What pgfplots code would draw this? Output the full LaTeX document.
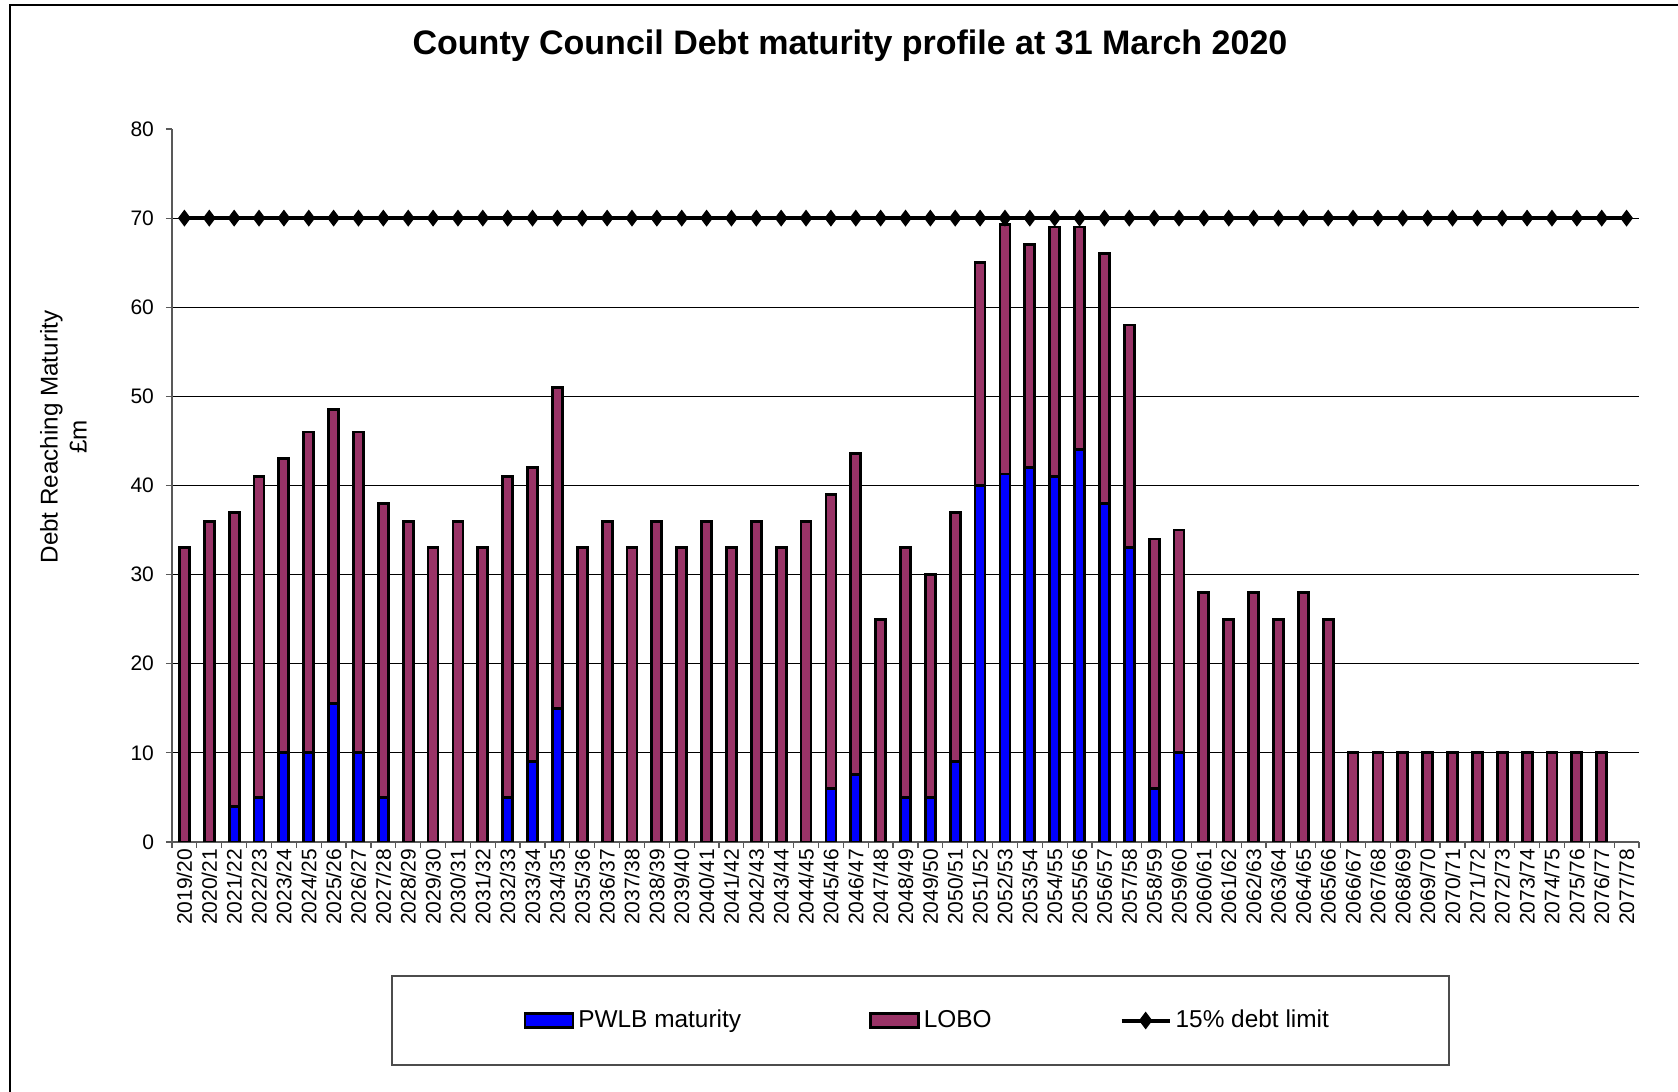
\documentclass[border=0pt]{standalone}
\usepackage{fontspec}
\setmainfont{Liberation Sans}
\usepackage{pgfplots}
\usepackage{pgfplotstable}
\pgfplotsset{compat=1.18}
\definecolor{pwlbc}{HTML}{0000FF}
\definecolor{loboc}{HTML}{993366}
\pgfplotsset{
  barlegend/.style={legend image code/.code={\draw[##1] (0pt,-3.5pt) rectangle (24pt,3.5pt);}},
  linelegend/.style={legend image code/.code={\draw[##1, sharp plot, mark repeat=2, mark phase=2] plot coordinates {(0pt,0pt) (12pt,0pt) (24pt,0pt)};}},
}

\pgfplotstableread{
x pwlb lobo limit
0 0 33 70
1 0 36 70
2 4 33 70
3 5 36 70
4 10 33 70
5 10 36 70
6 15.5 33 70
7 10 36 70
8 5 33 70
9 0 36 70
10 0 33 70
11 0 36 70
12 0 33 70
13 5 36 70
14 9 33 70
15 15 36 70
16 0 33 70
17 0 36 70
18 0 33 70
19 0 36 70
20 0 33 70
21 0 36 70
22 0 33 70
23 0 36 70
24 0 33 70
25 0 36 70
26 6 33 70
27 7.6 36 70
28 0 25 70
29 5 28 70
30 5 25 70
31 9 28 70
32 40 25 70
33 41.3 28 70
34 42 25 70
35 41 28 70
36 44 25 70
37 38 28 70
38 33 25 70
39 6 28 70
40 10 25 70
41 0 28 70
42 0 25 70
43 0 28 70
44 0 25 70
45 0 28 70
46 0 25 70
47 0 10 70
48 0 10 70
49 0 10 70
50 0 10 70
51 0 10 70
52 0 10 70
53 0 10 70
54 0 10 70
55 0 10 70
56 0 10 70
57 0 10 70
58 0 0 70
}\debt

\begin{document}
\begin{tikzpicture}[x=1pt,y=1pt]
\path[use as bounding box] (0,0) rectangle (839,546);
\draw[line width=0.8pt] (5,-5) -- (5,543.5) -- (850,543.5);
\node[font=\fontsize{17}{20}\selectfont\bfseries] at (425,523) {County Council Debt maturity profile at 31 March 2020};
\draw[line width=0.7pt, draw=black!70] (196,13.5) rectangle (724.5,58);
\begin{axis}[
  at={(86pt,125pt)}, anchor=south west,
  scale only axis, width=733.5pt, height=356.5pt,
  ybar stacked, bar width=5pt,
  xmin=-0.5, xmax=58.5, ymin=0, ymax=80,
  axis x line*=bottom, axis y line*=left,
  axis line style={-, draw=black!65, line width=0.7pt},
  tick align=outside, major tick length=3pt,
  tick style={draw=black!65, line width=0.6pt},
  xtick={-0.5,0.5,...,58.5}, xticklabels={},
  extra x ticks={0,1,...,58},
  extra x tick labels={2019/20,2020/21,2021/22,2022/23,2023/24,2024/25,2025/26,2026/27,2027/28,2028/29,2029/30,2030/31,2031/32,2032/33,2033/34,2034/35,2035/36,2036/37,2037/38,2038/39,2039/40,2040/41,2041/42,2042/43,2043/44,2044/45,2045/46,2046/47,2047/48,2048/49,2049/50,2050/51,2051/52,2052/53,2053/54,2054/55,2055/56,2056/57,2057/58,2058/59,2059/60,2060/61,2061/62,2062/63,2063/64,2064/65,2065/66,2066/67,2067/68,2068/69,2069/70,2070/71,2071/72,2072/73,2073/74,2074/75,2075/76,2076/77,2077/78},
  extra x tick style={major tick length=0pt, tick label style={rotate=90, anchor=east, font=\fontsize{10.5}{12}\selectfont}},
  ytick={0,10,...,70},
  extra y ticks={80}, extra y tick style={grid=none},
  ymajorgrids, grid style={black, line width=0.5pt},
  yticklabel style={font=\fontsize{10.5}{12}\selectfont, xshift=-2.5pt},
  /pgf/number format/assume math mode=true,
  ylabel={Debt Reaching Maturity\\£m},
  ylabel style={at={(axis description cs:-0.074,0.568)}, anchor=center, align=center, font=\fontsize{12.1}{14.5}\selectfont},
  legend columns=3,
  legend style={at={(0.5155,-0.2504)}, anchor=center, draw=none, fill=none,
    font=\fontsize{12.2}{15}\selectfont,
    /tikz/every even column/.append style={column sep=62pt}},
]
\addplot[fill=pwlbc, draw=black, line width=1.4pt, barlegend]
  table[x=x,y=pwlb]{\debt};
\addlegendentry{PWLB maturity}
\addplot[fill=loboc, draw=black, line width=1.4pt, barlegend]
  table[x=x,y=lobo]{\debt};
\addlegendentry{LOBO}
\addlegendimage{black, line width=2pt, mark=diamond*, mark size=2.8pt, linelegend}
\addlegendentry{15\% debt limit}
\end{axis}
\begin{axis}[
  at={(86pt,125pt)}, anchor=south west,
  scale only axis, width=733.5pt, height=356.5pt,
  xmin=-0.5, xmax=58.5, ymin=0, ymax=80,
  hide axis, clip=false,
]
\addplot[black, line width=2pt, mark=diamond*, mark size=2.6pt] table[x=x,y=limit]{\debt};
\end{axis}
\end{tikzpicture}
\end{document}
